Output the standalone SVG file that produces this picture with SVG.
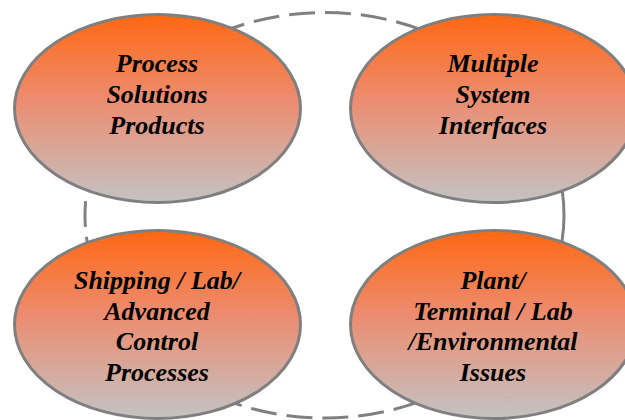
<svg xmlns="http://www.w3.org/2000/svg" width="625" height="420" viewBox="0 0 625 420">
<defs>
<linearGradient id="g" x1="0" y1="0" x2="0" y2="1">
<stop offset="0" stop-color="#FF6812"/>
<stop offset="0.45" stop-color="#EC8C70"/>
<stop offset="1" stop-color="#C3C3C3"/>
</linearGradient>
<style>
.n{fill:url(#g);stroke:#7F7F7F;stroke-width:3}
.t{font-family:"Liberation Serif","Times New Roman",serif;font-size:26px;font-weight:bold;font-style:italic;fill:#000;text-anchor:middle}
.ring{fill:none;stroke:#808080;stroke-width:3;stroke-dasharray:26 10}
</style>
</defs>
<rect width="625" height="420" fill="#fff"/>
<g id="connectors">
<ellipse class="ring" cx="324.5" cy="215.3" rx="239.5" ry="202.8"/>
</g>
<g id="node-process">
<ellipse class="n" cx="157.5" cy="108.5" rx="143" ry="94"/>
<text class="t"><tspan x="157" y="72">Process</tspan><tspan x="157" y="103">Solutions</tspan><tspan x="157" y="134">Products</tspan></text>
</g>
<g id="node-multiple">
<ellipse class="n" cx="493.5" cy="108.5" rx="143" ry="94"/>
<text class="t"><tspan x="493" y="72">Multiple</tspan><tspan x="493" y="103">System</tspan><tspan x="493" y="134">Interfaces</tspan></text>
</g>
<g id="node-shipping">
<ellipse class="n" cx="157.5" cy="324.5" rx="143" ry="94"/>
<text class="t"><tspan x="157" y="289">Shipping / Lab/</tspan><tspan x="157" y="319.5">Advanced</tspan><tspan x="157" y="350">Control</tspan><tspan x="157" y="380.5">Processes</tspan></text>
</g>
<g id="node-plant">
<ellipse class="n" cx="493.5" cy="324.5" rx="143" ry="94"/>
<text class="t"><tspan x="493" y="289">Plant/</tspan><tspan x="493" y="319.5">Terminal / Lab</tspan><tspan x="493" y="350">/Environmental</tspan><tspan x="493" y="380.5">Issues</tspan></text>
</g>
</svg>
